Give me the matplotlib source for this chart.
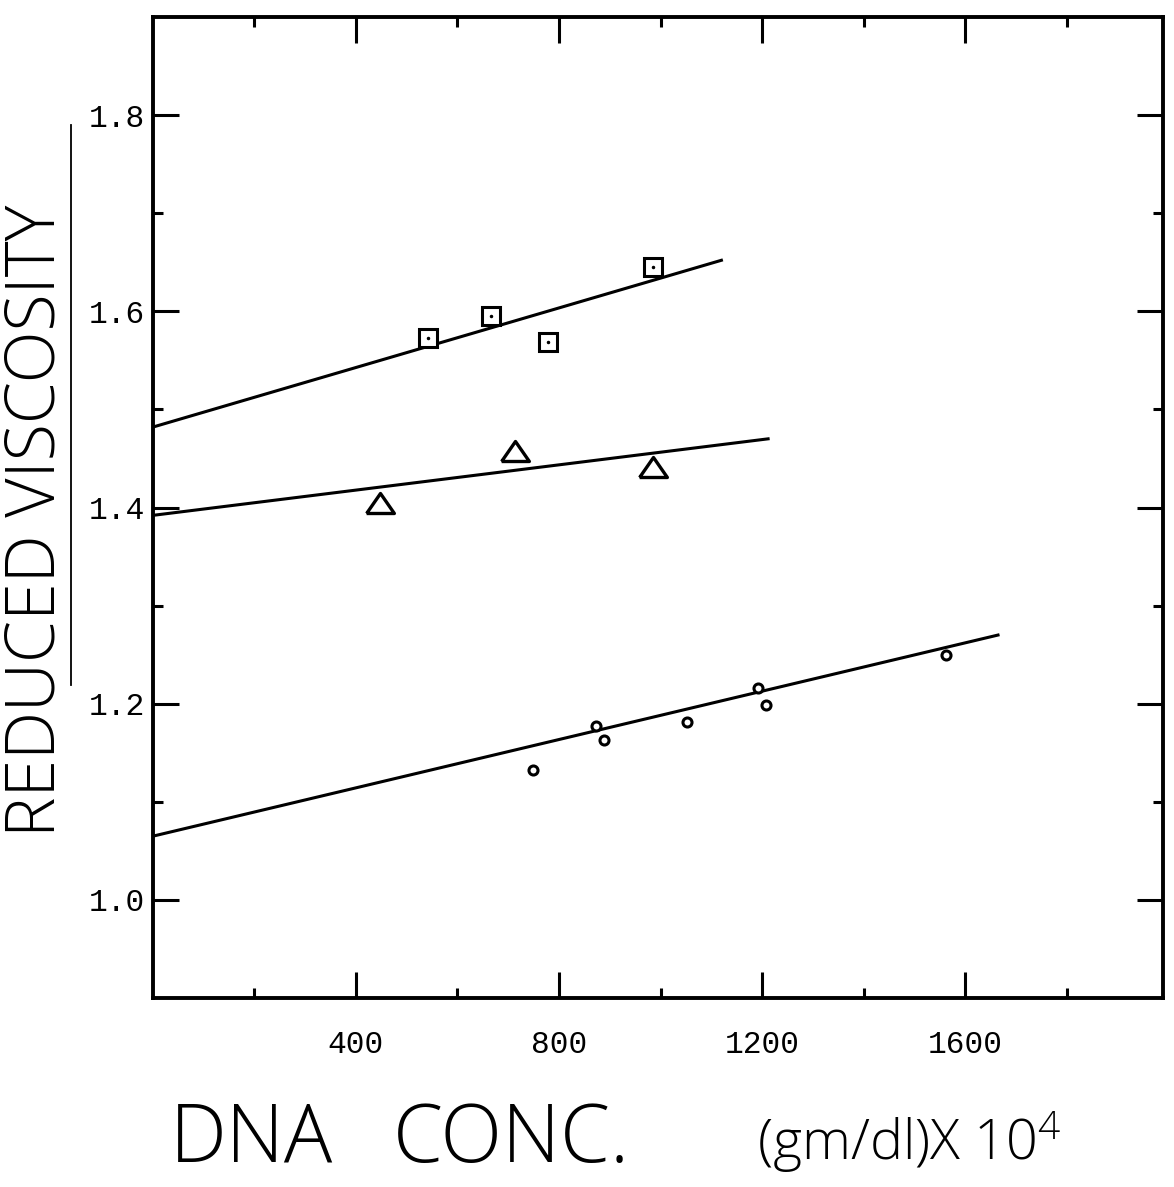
import numpy as np
import matplotlib
matplotlib.use('Agg')
import matplotlib.pyplot as plt
from matplotlib.lines import Line2D

# Viscosidade reduzida vs concentracao de DNA (tres series)
sq_x = [542, 666, 778, 985]
sq_y = [1.573, 1.595, 1.569, 1.645]
sq_fit_x = [0, 1120]
sq_fit_y = [1.482, 1.652]

tri_x = [447, 713, 985]
tri_y = [1.405, 1.458, 1.441]
tri_fit_x = [0, 1212]
tri_fit_y = [1.392, 1.470]

circ_x = [749, 873, 889, 1052, 1192, 1208, 1563]
circ_y = [1.132, 1.177, 1.163, 1.181, 1.216, 1.199, 1.250]
circ_fit_x = [0, 1665]
circ_fit_y = [1.065, 1.270]

xticks_major = [400, 800, 1200, 1600]
xticks_minor = [200, 600, 1000, 1400, 1800]
yticks_major = [1.0, 1.2, 1.4, 1.6, 1.8]
yticks_minor = [1.1, 1.3, 1.5, 1.7]

plt.rcParams['mathtext.default'] = 'regular'

fig = plt.figure(figsize=(11.74, 11.87), dpi=100)
ax = fig.add_axes([0.1303, 0.1592, 0.8603, 0.8265])

# retas de ajuste
ax.plot(sq_fit_x, sq_fit_y, color='k', lw=2.2)
ax.plot(tri_fit_x, tri_fit_y, color='k', lw=2.2)
ax.plot(circ_fit_x, circ_fit_y, color='k', lw=2.2)

# pontos
ax.plot(sq_x, sq_y, ls='none', marker='s', ms=12.5, mfc='white', mec='k', mew=2.2)
ax.plot(sq_x, sq_y, ls='none', marker='.', ms=3, color='k')
tri_marker = [(-1, -0.72), (1, -0.72), (0, 0.72), (-1, -0.72)]
ax.plot(tri_x, tri_y, ls='none', marker=tri_marker, ms=20, mfc='white', mec='k', mew=2.4)
ax.plot(circ_x, circ_y, ls='none', marker='o', ms=6.5, mfc='white', mec='k', mew=2.2)

ax.set_xlim(0, 1990)
ax.set_ylim(0.9, 1.9)

ax.set_xticks(xticks_major)
ax.set_xticks(xticks_minor, minor=True)
ax.set_yticks(yticks_major)
ax.set_yticks(yticks_minor, minor=True)
ax.set_xticklabels([str(v) for v in xticks_major])
ax.set_yticklabels(['%.1f' % v for v in yticks_major])

for s in ax.spines.values():
    s.set_linewidth(2.8)

ax.tick_params(which='both', direction='in', top=True, right=True, width=2.2)
ax.tick_params(which='major', length=19)
ax.tick_params(which='minor', length=7)
ax.tick_params(axis='x', which='major', pad=23)
ax.tick_params(axis='y', which='major', pad=6)
for lab in ax.get_xticklabels() + ax.get_yticklabels():
    lab.set_fontfamily('Liberation Mono')
    lab.set_fontsize(22.5)

# titulos dos eixos
fig.text(0.031, 0.561, 'REDUCED VISCOSITY', rotation=90, ha='center', va='center',
         fontsize=49, family='Open Sans', fontweight=300)
fig.add_artist(Line2D([71 / 1174, 71 / 1174], [1 - 125 / 1187, 1 - 685 / 1187],
                      color='k', lw=1.3))

fig.text(170 / 1174, 1 - 1162 / 1187, 'DNA', ha='left', va='baseline',
         fontsize=58, family='Open Sans', fontweight=300)
fig.text(393 / 1174, 1 - 1162 / 1187, 'CONC.', ha='left', va='baseline',
         fontsize=58, family='Open Sans', fontweight=300)
fig.text(757 / 1174, 1 - 1160 / 1187, '(gm/dl)X 10$^{4}$', ha='left', va='baseline',
         fontsize=40, family='Open Sans', fontweight=300)

fig.savefig('out.png', dpi=100)
